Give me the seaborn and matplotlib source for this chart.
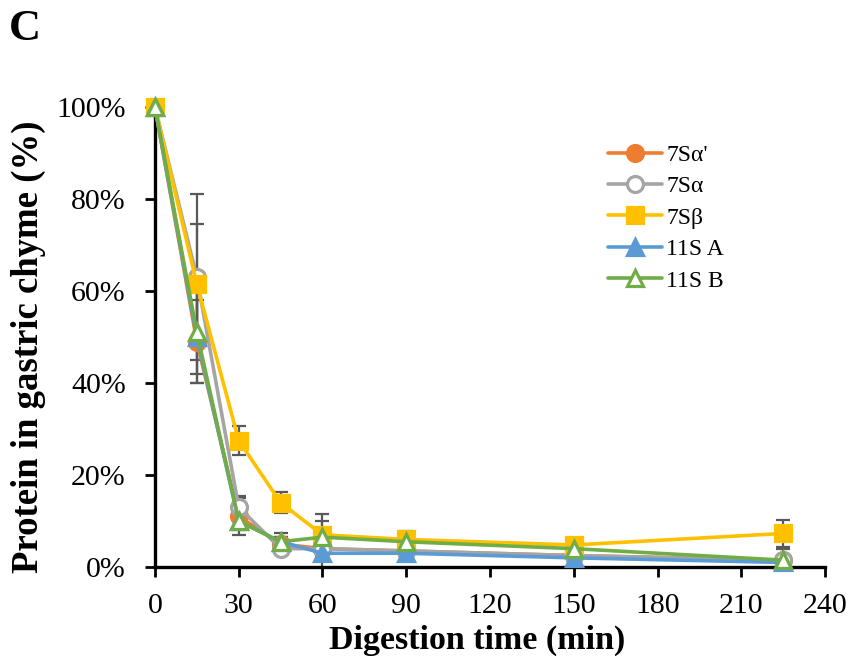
import matplotlib
matplotlib.use("Agg")
import matplotlib.pyplot as plt
import numpy as np
import pandas as pd
import seaborn as sns
from matplotlib.ticker import PercentFormatter

time_min = [0, 15, 30, 45, 60, 90, 150, 225]
series_names = ["7Sα'", "7Sα", "7Sβ", "11S A", "11S B"]
alpha_prime = [100, 49, 11, 5, 4, 3.5, 2.5, 1.5]
alpha = [100, 63, 13, 4, 4, 3.5, 2.5, 1.5]
beta = [100, 61.5, 27.5, 14, 7, 6, 4.8, 7.3]
acidic_a = [100, 50, 10, 5.5, 3, 3, 2, 1]
basic_b = [100, 51, 10, 5.5, 6.5, 5.5, 4, 1.5]
err_alpha_prime = [0, 9, 4, 1.5, 1, 1, 0.5, 0.5]
err_alpha = [0, 18, 2.5, 1, 6, 1, 0.5, 2.5]
err_beta = [0, 13, 3.2, 2.3, 4.5, 1.8, 0.5, 3]
err_a = [0, 10, 1.5, 1, 1, 0.5, 0.3, 0.5]
err_b = [0, 9, 2, 2, 1, 1.5, 0.5, 0.5]

values = [alpha_prime, alpha, beta, acidic_a, basic_b]
errors = [err_alpha_prime, err_alpha, err_beta, err_a, err_b]
colors = ["#ED7D31", "#A5A5A5", "#FFC000", "#5B9BD5", "#70AD47"]
markers = ["o", "o", "s", "^", "^"]
hollow = [False, True, False, False, True]

sns.set_style("ticks")
plt.rcParams["font.family"] = ["Liberation Serif", "DejaVu Serif"]
for key in ["text.color", "axes.labelcolor", "xtick.color", "ytick.color"]:
    plt.rcParams[key] = "black"

fig = plt.figure(figsize=(8.56, 6.64), dpi=100)
ax = fig.add_axes([0.181, 0.146, 0.783, 0.693])

for name, vals, err, color, marker, is_hollow in zip(series_names, values, errors, colors, markers, hollow):
    frame = pd.DataFrame({"time": time_min, "value": vals})
    ax.errorbar(time_min, vals, yerr=err, fmt="none", ecolor="#595959",
                elinewidth=1.6, capsize=5, capthick=1.6, zorder=2)
    sns.lineplot(data=frame, x="time", y="value", ax=ax, color=color, linewidth=2.6,
                 marker=marker, markersize=11 if marker == "s" else 11.5,
                 markerfacecolor="white" if is_hollow else color,
                 markeredgecolor=color, markeredgewidth=2.3, label=name,
                 zorder=3, clip_on=False)

ax.set_xlim(0, 240)
ax.set_ylim(0, 100)
ax.set_xticks(np.arange(0, 241, 30))
ax.set_yticks(np.arange(0, 101, 20))
ax.yaxis.set_major_formatter(PercentFormatter(decimals=0))
ax.tick_params(axis="both", labelsize=21.5, width=2, length=7, direction="out")
ax.tick_params(axis="y", pad=14)
ax.tick_params(axis="x", pad=12)
for side in ["left", "bottom"]:
    ax.spines[side].set_linewidth(2.4)
    ax.spines[side].set_color("black")
sns.despine(ax=ax)
ax.set_xlabel("Digestion time (min)", fontsize=24.5, fontweight="bold")
ax.set_ylabel("Protein in gastric chyme (%)", fontsize=26.5, fontweight="bold")
ax.xaxis.set_label_coords(0.48, -0.125)
ax.yaxis.set_label_coords(-0.162, 0.479)

ax.legend(loc="upper left", bbox_to_anchor=(0.645, 0.965), frameon=False, fontsize=17,
          handlelength=2.25, handletextpad=0.2, labelspacing=0.42)

fig.text(0.01, 0.94, "C", fontsize=32, fontweight="bold")
fig.savefig("out.png", dpi=100)
